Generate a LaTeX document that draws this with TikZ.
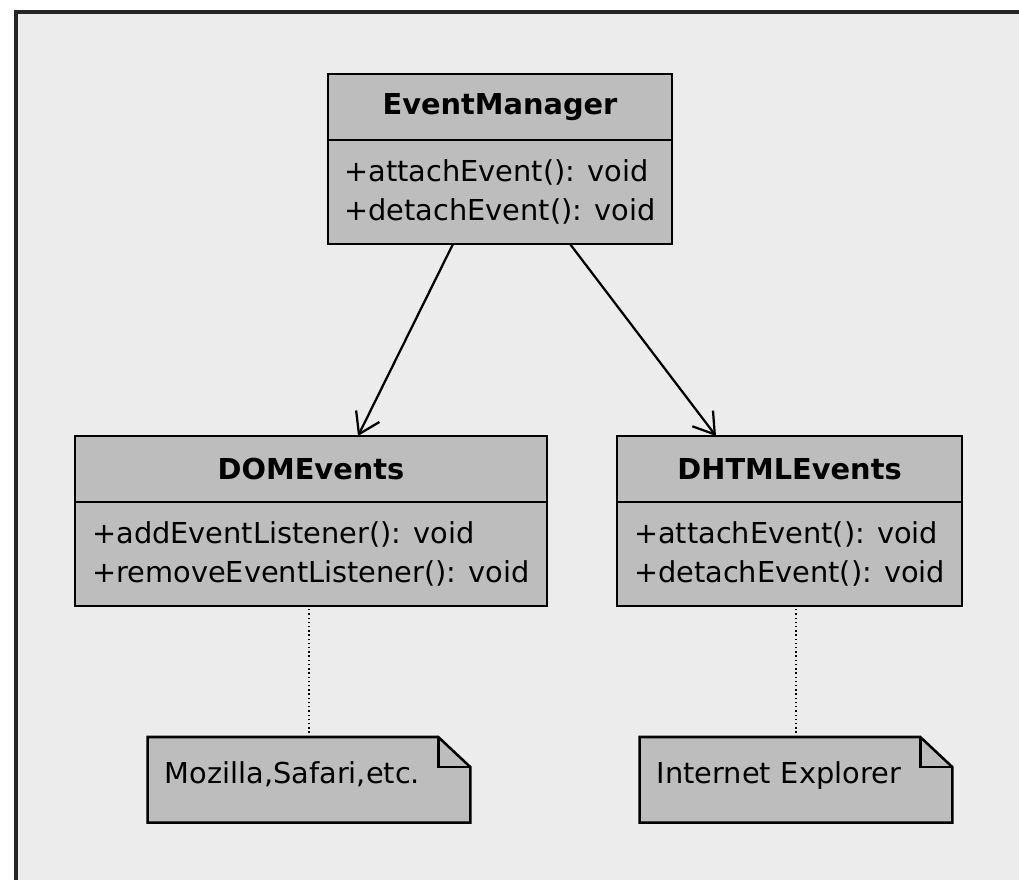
\documentclass[tikz,border=0pt]{standalone}
\usepackage{fontspec}
\setmainfont{DejaVu Sans}
\usetikzlibrary{arrows.meta, positioning, backgrounds}

\definecolor{fondo}{gray}{0.925}
\definecolor{caja}{gray}{0.74}

\begin{document}
\begin{tikzpicture}[
    texto/.style={font=\fontsize{20.5}{27.5}\selectfont},
    clase/.style={
        draw=black,
        line width=1.8pt,
        fill=caja,
        minimum height=1.65cm,
        inner sep=0pt,
        outer sep=0pt,
        font=\fontsize{20.5}{27.5}\selectfont\bfseries
    },
    metodos/.style={
        draw=black,
        line width=1.8pt,
        fill=caja,
        minimum height=2.6cm,
        inner sep=0pt,
        outer sep=0pt,
        align=left,
        texto
    },
    nota/.style={
        minimum height=2.125cm,
        inner xsep=0.42cm,
        inner ysep=0pt,
        align=left,
        text depth=0.35cm,
        texto
    },
    pliegue/.style={
        draw=black,
        line width=1.8pt,
        fill=caja
    },
    flecha/.style={
        -{Straight Barb[length=5mm, width=6.5mm]},
        line width=1.6pt
    },
    enlace/.style={
        dotted,
        line width=1pt
    }
]

\useasboundingbox (0,0) rectangle (25.475,-22);

% Clase base
\node (em) [clase, minimum width=8.6cm, anchor=north] at (12.5,-1.85) {EventManager};
\node (emMetodos) [metodos, minimum width=8.6cm, below=0pt of em]
    {+attachEvent(): void\\+detachEvent(): void};

% Implementaciones
\node (dom) [clase, minimum width=11.8cm, anchor=north] at (7.775,-10.9) {DOMEvents};
\node (domMetodos) [metodos, minimum width=11.8cm, below=0pt of dom]
    {+addEventListener(): void\\+removeEventListener(): void};

\node (dhtml) [clase, minimum width=8.625cm, anchor=north] at (19.74,-10.9) {DHTMLEvents};
\node (dhtmlMetodos) [metodos, minimum width=8.625cm, below=0pt of dhtml]
    {+attachEvent(): void\\+detachEvent(): void};

% Notas
\node (moz) [nota, text width=7.21cm, anchor=north] at (7.725,-18.425) {Mozilla,Safari,etc.};
\node (ie) [nota, text width=6.96cm, anchor=north] at (19.9,-18.425) {Internet Explorer};

% Fondo y contorno de las notas
\begin{scope}[on background layer]
    \fill[fondo] (0.4,-0.3) rectangle (25.475,-22);
    \draw[line width=2.2pt, black!85] (25.475,-0.3) -- (0.4,-0.3) -- (0.4,-22);
    \foreach \n in {moz, ie} {
        \filldraw[pliegue] (\n.north west) -- ([xshift=-0.8cm]\n.north east)
            -- ([yshift=-0.75cm]\n.north east) -- (\n.south east) -- (\n.south west) -- cycle;
        \draw[pliegue, fill=none] ([xshift=-0.8cm]\n.north east) |- ([yshift=-0.75cm]\n.north east);
    }
\end{scope}

% Herencia
\draw[flecha] ([xshift=-1.175cm]emMetodos.south) -- ([xshift=1.175cm]dom.north);
\draw[flecha] ([xshift=1.75cm]emMetodos.south) -- ([xshift=-1.84cm]dhtml.north);

% Enlaces a las notas
\draw[enlace] (moz.north) -- (moz.north |- domMetodos.south);
\draw[enlace] (ie.north) -- (ie.north |- dhtmlMetodos.south);

\end{tikzpicture}
\end{document}
